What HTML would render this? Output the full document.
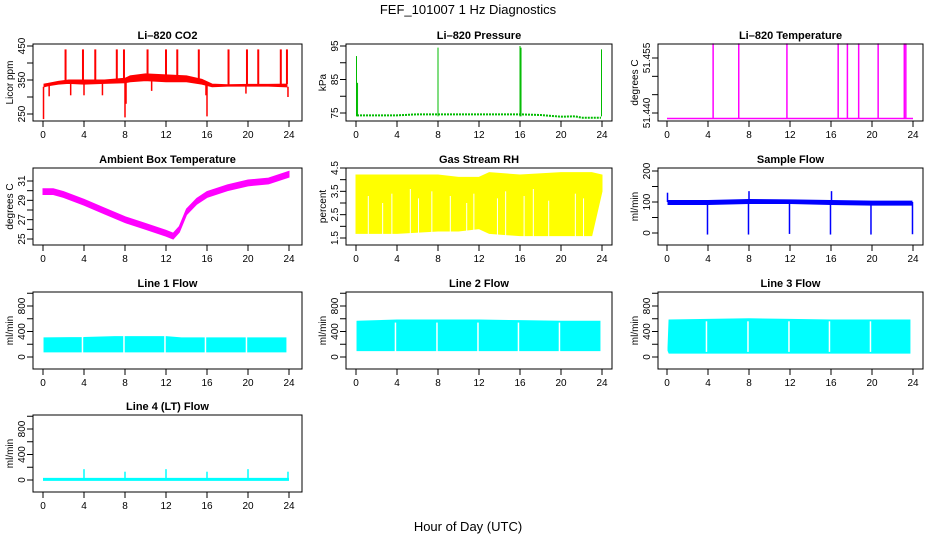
<!DOCTYPE html>
<html><head><meta charset="utf-8"><style>
html,body{margin:0;padding:0;background:#fff;}
svg{display:block;font-family:"Liberation Sans",sans-serif;}
</style></head><body>
<svg id="c" width="936" height="540" viewBox="0 0 936 540">
<text x="468" y="14" text-anchor="middle" font-size="13">FEF_101007  1 Hz Diagnostics</text>
<text x="468" y="531" text-anchor="middle" font-size="13">Hour of Day (UTC)</text>
</svg>
<script>
// ---- data ----
const xTicks = [0,4,8,12,16,20,24];
// CO2 band
const co2Hours = [0.1,0.5,1.5,2.5,4,6,8,8.5,10,12,14,15.5,16.5,18,20,22,23.8];
const co2Lo    = [330,333,338,340,338,340,342,345,348,345,345,338,330,332,332,332,330];
const co2Hi    = [338,340,346,350,350,350,355,362,368,365,362,352,338,336,337,337,338];
const co2SpikeH = [2.2,3.9,5.1,7.2,7.9,10.2,12.0,13.1,15.2,18.1,19.9,21.0,23.2,23.8];
const co2SpikeV = [440,440,440,440,440,440,440,440,440,440,440,440,440,440];
const co2DipH = [0.05,0.6,2.7,4.0,5.8,8.0,8.1,10.6,15.9,16.0,19.8,23.9];
const co2DipV = [235,302,305,305,305,240,280,318,305,243,310,300];
// pressure
const presHours = [0.1,4,6,8,12,16,18,20,21.4,22,23.9];
const presVal   = [74.3,74.3,74.6,74.6,74.6,74.6,74.4,73.9,74,73.6,73.6];
const presSpikeH = [0.05,0.15,8.0,16.0,16.1,23.95];
const presSpikeV = [92,84,94.5,95,94.5,94];
// Li-820 temperature
const ltBase = 51.4385;
const ltSpikeH = [4.5,7.0,11.7,16.7,17.6,18.7,20.6,23.15,23.3];
const ltSpikeV = [51.459,51.459,51.459,51.459,51.459,51.459,51.459,51.459,51.459];
// ambient box temperature
const ambHours = [0,1,2,4,6,8,10,12,12.7,13.3,14,15,16,18,20,22,24];
const ambMid   = [29.9,29.9,29.6,28.8,27.9,27.0,26.3,25.6,25.3,26.0,27.8,28.9,29.6,30.3,30.8,31.0,31.7];
const ambHalf = 0.3;
// gas stream RH
const rhHours = [0,4,8,10,12,13,16,20,23,24];
const rhLo    = [1.7,1.7,1.8,1.8,1.9,1.7,1.6,1.6,1.6,3.5];
const rhHi    = [4.2,4.2,4.2,4.1,4.1,4.3,4.2,4.3,4.3,4.2];
const rhGapH  = [1.2,2.6,3.5,5.3,6.1,7.4,9.2,10.8,11.5,13.8,14.6,16.4,17.3,18.8,21.4,22.2];
const rhGapTop = [3.3,3.0,3.4,3.6,3.2,3.5,3.3,3.0,3.4,3.2,3.5,3.3,3.6,3.1,3.4,3.2];
// sample flow
const sfHours = [0.1,4,8,12,16,20,23.9];
const sfLo    = [92,92,95,95,92,90,90];
const sfHi    = [105,105,108,107,105,103,103];
const sfSpikeH = [0.05,3.95,7.95,11.95,15.95,19.9,23.95,8.0,16.05];
const sfSpikeV = [130,-5,-5,-3,-5,-5,-4,135,135];
// line flows
const gapH = [3.85,7.9,11.9,15.85,19.85];
const l1Hours = [0.1,4,7,8,12,13.5,16,20,23.7];
const l1Lo    = [80,80,80,80,80,80,80,80,80];
const l1Hi    = [300,305,320,320,320,300,300,300,300];
const l2Hours = [0.1,4,8,12,16,20,23.8];
const l2Lo    = [100,100,100,100,100,100,100];
const l2Hi    = [560,580,580,580,570,560,560];
const l3Hours = [0.1,0.2,4,8,12,16,20,23.7];
const l3Lo    = [100,60,60,60,60,60,60,60];
const l3Hi    = [150,580,590,600,590,580,580,580];
// line 4
const l4Base = 10;
const l4SpikeH = [4,8,12,16,20,23.9];
const l4SpikeV = [170,130,170,130,170,130];

// ---- layout ----
const NS='http://www.w3.org/2000/svg';
const svg=document.getElementById('c');
const cols=[{x0:33,x1:302,d0:43,d1:289,yl:10,tl:22},{x0:346,x1:612,d0:356,d1:602,yl:323,tl:335},{x0:658,x1:923,d0:667,d1:913,yl:635,tl:647}];
const rows=[44,168,292,415];
const H=77;
function el(tag,attrs,parent){const e=document.createElementNS(NS,tag);for(const k in attrs)e.setAttribute(k,attrs[k]);(parent||svg).appendChild(e);return e;}

function panel(name,title,ci,ri,ylab,yv,yp,ticks,labels){
  const c=cols[ci],top=rows[ri];
  const g=el('g',{});
  
  
  const X=h=>c.d0+(c.d1-c.d0)*h/24;
  const Y=v=>top+yp[0]+(yp[1]-yp[0])*(v-yv[0])/(yv[1]-yv[0]);
  const t=el('text',{x:(c.x0+c.x1)/2,y:top-5,'text-anchor':'middle','font-size':11,'font-weight':'bold'},g);
  t.textContent=title;
  
  
  const plot=el('g',{},g);
  
  
  const box=el('rect',{x:c.x0,y:top,width:c.x1-c.x0,height:H,fill:'none',stroke:'#000','stroke-width':1},g);
  
  
  const xa=el('g',{},g);
  
  
  el('line',{x1:X(0),x2:X(24),y1:top+H,y2:top+H,stroke:'#000'},xa);
  xTicks.forEach(v=>{
    el('line',{x1:X(v),x2:X(v),y1:top+H,y2:top+H+6,stroke:'#000'},xa);
    const l=el('text',{x:X(v),y:top+H+17,'text-anchor':'middle','font-size':10},xa);
    l.textContent=v;
    
    
  });
  const ya=el('g',{},g);
  
  
  el('line',{x1:c.x0,x2:c.x0,y1:Y(ticks[0]),y2:Y(ticks[ticks.length-1]),stroke:'#000'},ya);
  ticks.forEach(v=>{el('line',{x1:c.x0-6,x2:c.x0,y1:Y(v),y2:Y(v),stroke:'#000'},ya);});
  labels.forEach(s=>{
    const v=parseFloat(s);
    const l=el('text',{x:0,y:0,'text-anchor':'middle','font-size':10,transform:`translate(${c.tl+3},${Y(v)}) rotate(-90)`},ya);
    l.textContent=s;
    
    
  });
  const yt=el('text',{x:0,y:0,'text-anchor':'middle','font-size':10,transform:`translate(${c.yl+3},${top+H/2}) rotate(-90)`},g);
  yt.textContent=ylab;
  
  
  return {X,Y,plot};
}
function band(p,hours,lo,hi,color,name){
  let d='M'+hours.map((h,i)=>p.X(h)+','+p.Y(hi[i])).join('L');
  for(let i=hours.length-1;i>=0;i--)d+='L'+p.X(hours[i])+','+p.Y(lo[i]);
  const e=el('path',{d:d+'Z',fill:color,stroke:color,'stroke-width':1},p.plot);
  
  
}
function spikes(p,hs,vs,base,color,name,w){
  hs.forEach((h,i)=>{
    const e=el('line',{x1:p.X(h),x2:p.X(h),y1:p.Y(typeof base==='number'?base:base(h)),y2:p.Y(vs[i]),stroke:color,'stroke-width':w||1.5},p.plot);
    
    
  });
}
function gaps(p,hs,lo,hi){
  hs.forEach(h=>{
    const e=el('line',{x1:p.X(h),x2:p.X(h),y1:p.Y(lo),y2:p.Y(hi),stroke:'#fff','stroke-width':1.5},p.plot);
    
    
  });
}
function interp(hs,vs,h){for(let i=0;i<hs.length-1;i++){if(h>=hs[i]&&h<=hs[i+1])return vs[i]+(vs[i+1]-vs[i])*(h-hs[i])/(hs[i+1]-hs[i]);}return h<hs[0]?vs[0]:vs[vs.length-1];}

// CO2
let p=panel('co2-panel','Li\u2013820 CO2',0,0,'Licor ppm',[250,450],[70,2],[250,300,350,400,450],['250','350','450']);
band(p,co2Hours,co2Lo,co2Hi,'#ff0000','co2-band');
spikes(p,co2SpikeH,co2SpikeV,h=>interp(co2Hours,co2Hi,h),'#ff0000','co2-spike',2);
spikes(p,co2DipH,co2DipV,h=>interp(co2Hours,co2Lo,h),'#ff0000','co2-dip',1.5);
// Pressure
p=panel('pressure-panel','Li\u2013820 Pressure',1,0,'kPa',[75,95],[69,2],[75,80,85,90,95],['75','85','95']);
const pd='M'+presHours.map((h,i)=>p.X(h)+','+p.Y(presVal[i])).join('L');
let e=el('path',{d:pd,fill:'none',stroke:'#00bb00','stroke-width':2,'stroke-dasharray':'2,1'},p.plot);


spikes(p,presSpikeH,presSpikeV,74,'#00bb00','pressure-spike',1);
// Li-820 Temperature
p=panel('li820-temp-panel','Li\u2013820 Temperature',2,0,'degrees C',[51.44,51.455],[69,14],[51.44,51.445,51.45,51.455],['51.440','51.455']);
e=el('line',{x1:p.X(0),x2:p.X(24),y1:p.Y(ltBase),y2:p.Y(ltBase),stroke:'#ff00ff','stroke-width':1.5},p.plot);


spikes(p,ltSpikeH,ltSpikeV,ltBase,'#ff00ff','temp-spike',1.5);
// Ambient
p=panel('ambient-temp-panel','Ambient Box Temperature',0,1,'degrees C',[25,31],[71,13],[25,26,27,28,29,30,31],['25','27','29','31']);
band(p,ambHours,ambMid.map(v=>v-ambHalf),ambMid.map(v=>v+ambHalf),'#ff00ff','ambient-band');
// RH
p=panel('rh-panel','Gas Stream RH',1,1,'percent',[1.5,4.5],[70,0],[1.5,2,2.5,3,3.5,4,4.5],['1.5','2.5','3.5','4.5']);
band(p,rhHours,rhLo,rhHi,'#ffff00','rh-band');
rhGapH.forEach((h,i)=>{
  const g2=el('line',{x1:p.X(h),x2:p.X(h),y1:p.Y(1.5),y2:p.Y(rhGapTop[i]),stroke:'#fff','stroke-width':1},p.plot);
  
  
});
// Sample flow
p=panel('sample-flow-panel','Sample Flow',2,1,'ml/min',[0,200],[65,3],[0,50,100,150,200],['0','100','200']);
band(p,sfHours,sfLo,sfHi,'#0000ff','sample-flow-band');
spikes(p,sfSpikeH,sfSpikeV,100,'#0000ff','sample-flow-spike',1.5);
// Line flows
const fT=[0,200,400,600,800,1000],fL=['0','400','800'];
p=panel('line1-flow-panel','Line 1 Flow',0,2,'ml/min',[0,800],[65,14],fT,fL);
band(p,l1Hours,l1Lo,l1Hi,'#00ffff','line1-band');gaps(p,gapH,60,340);
p=panel('line2-flow-panel','Line 2 Flow',1,2,'ml/min',[0,800],[65,14],fT,fL);
band(p,l2Hours,l2Lo,l2Hi,'#00ffff','line2-band');gaps(p,gapH,80,540);
p=panel('line3-flow-panel','Line 3 Flow',2,2,'ml/min',[0,800],[65,14],fT,fL);
band(p,l3Hours,l3Lo,l3Hi,'#00ffff','line3-band');gaps(p,gapH,80,560);
p=panel('line4-flow-panel','Line 4 (LT) Flow',0,3,'ml/min',[0,800],[65,14],fT,fL);
e=el('line',{x1:p.X(0),x2:p.X(24),y1:p.Y(l4Base),y2:p.Y(l4Base),stroke:'#00ffff','stroke-width':3},p.plot);


spikes(p,l4SpikeH,l4SpikeV,l4Base,'#00ffff','line4-spike',1.5);
</script>
</body></html>
